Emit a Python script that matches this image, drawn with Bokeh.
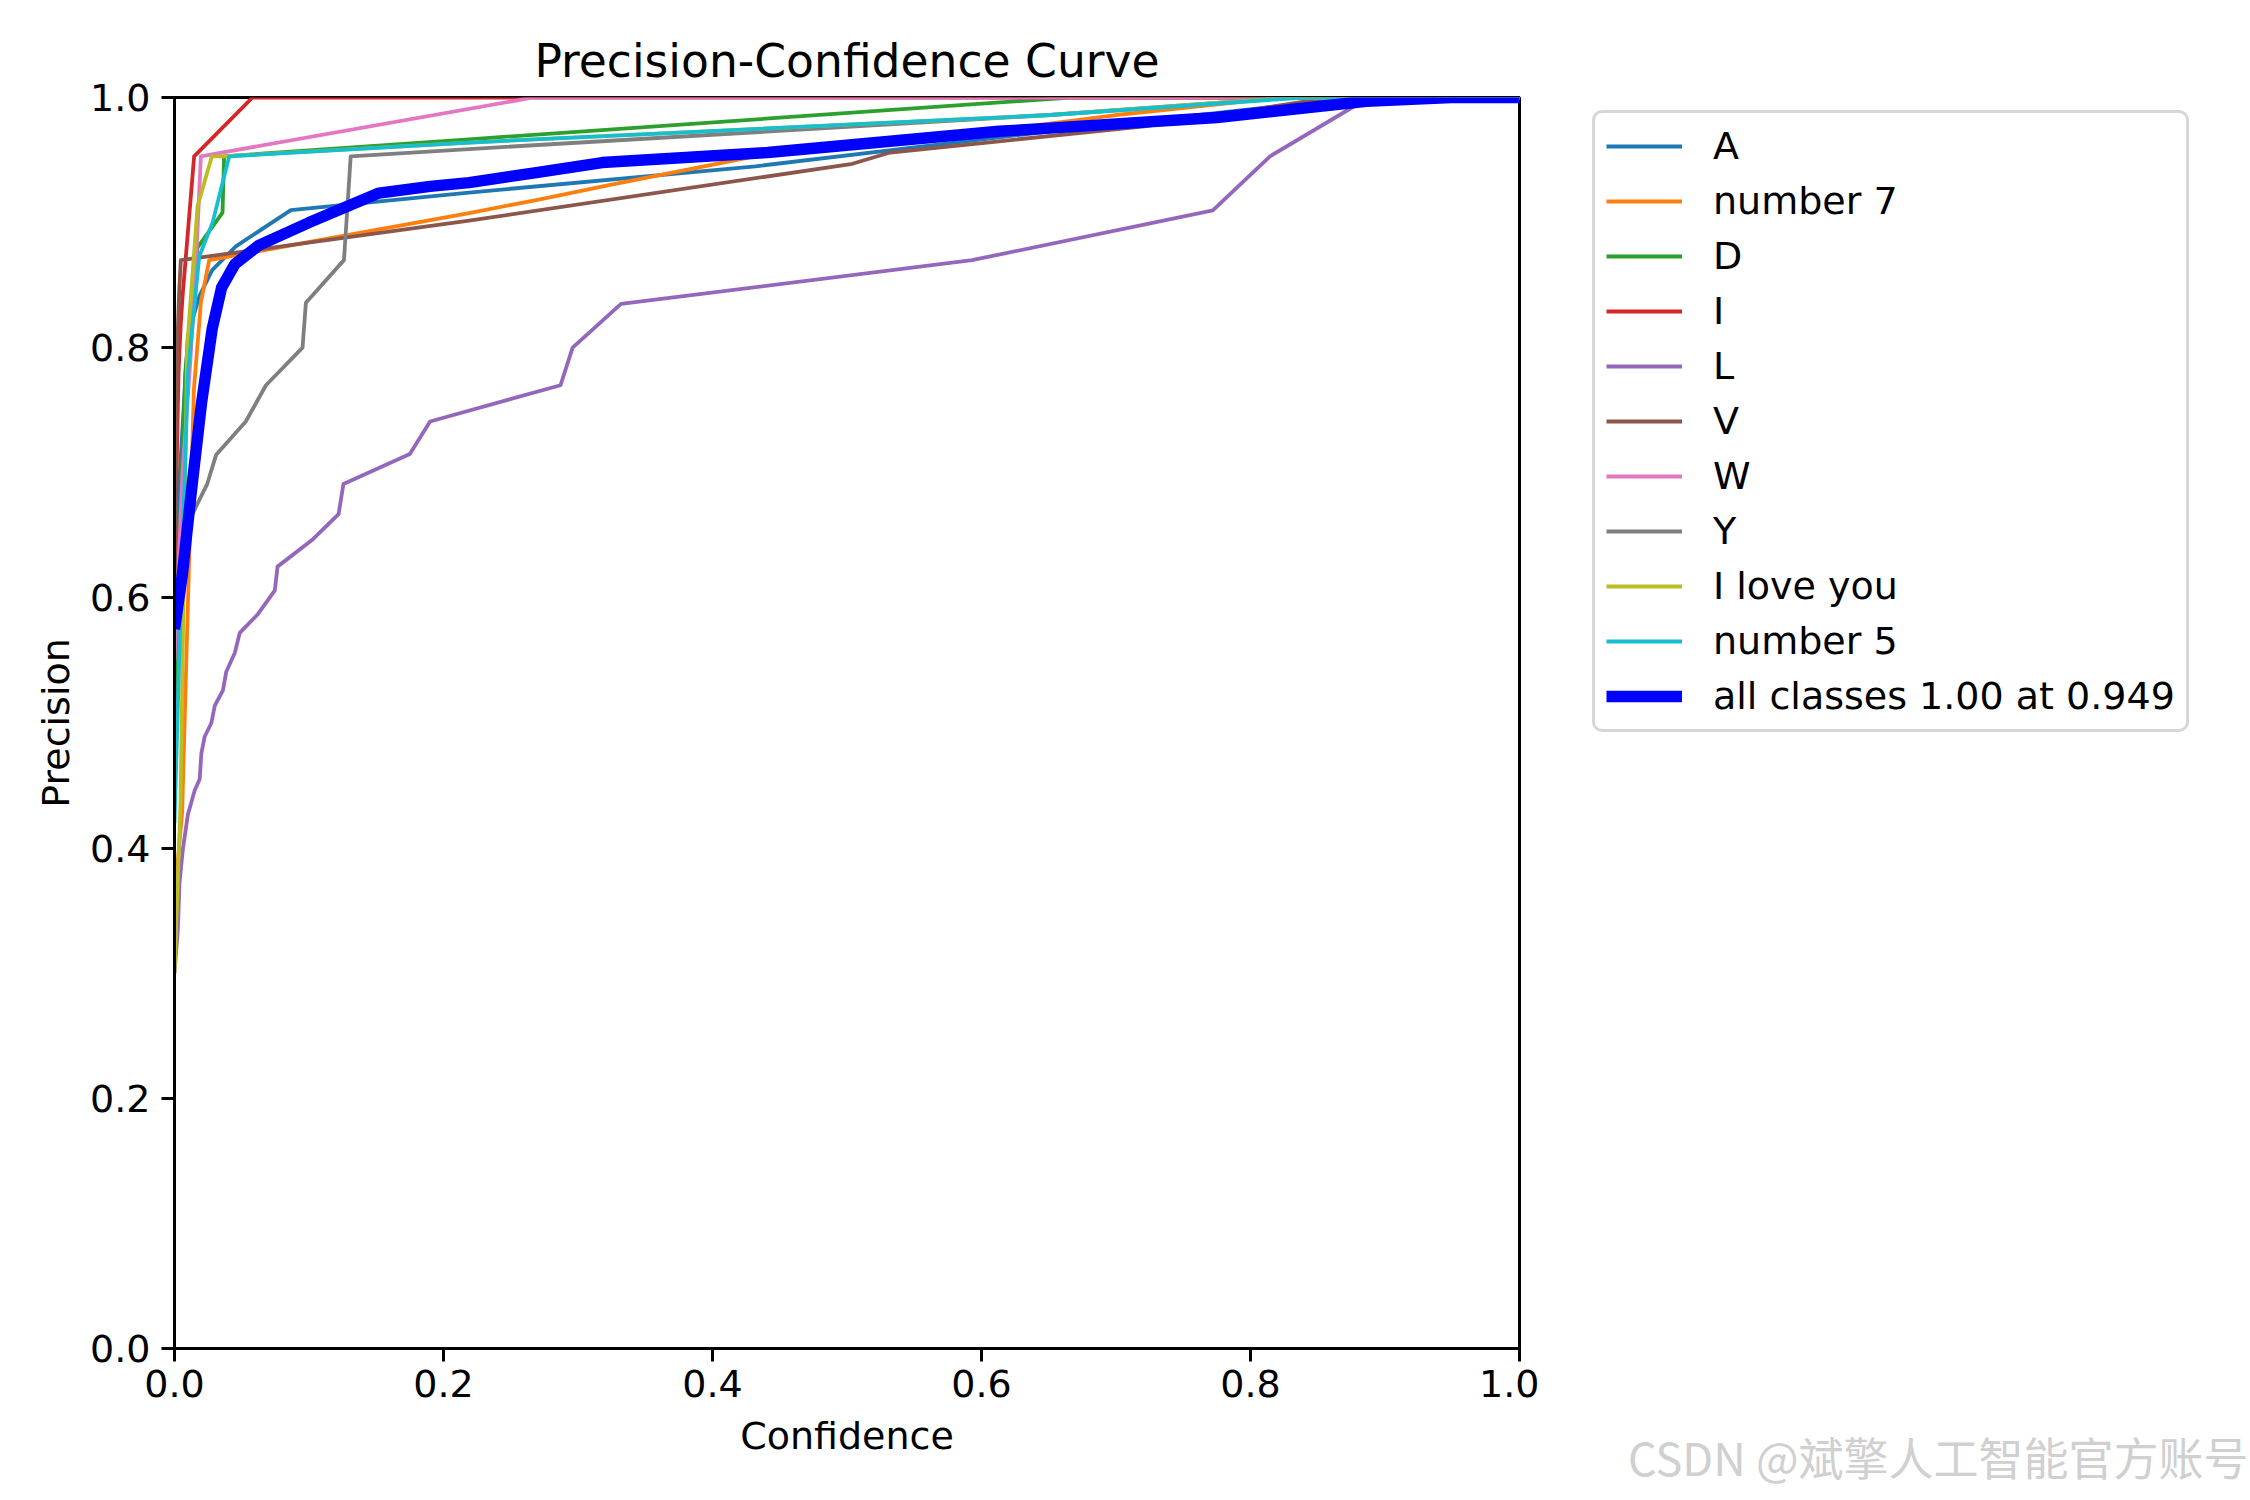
from bokeh.plotting import figure
from bokeh.models import Range1d, FixedTicker, Legend, LegendItem, Title
from bokeh.layouts import row
from bokeh.embed import file_html
from bokeh.resources import INLINE

# ---------------- data ----------------
CLASSES = ["A", "number 7", "D", "I", "L", "V", "W", "Y", "I love you", "number 5"]
COLORS = ["#1f77b4", "#ff7f0e", "#2ca02c", "#d62728", "#9467bd",
          "#8c564b", "#e377c2", "#7f7f7f", "#bcbd22", "#17becf"]

CONF_A = [0, 0.004, 0.010, 0.0184, 0.028, 0.0456, 0.0865, 0.219, 0.432, 0.651, 0.88, 1.0]
PREC_A = [0.50, 0.70, 0.81, 0.841, 0.862, 0.881, 0.910, 0.924, 0.945, 0.973, 1.0, 1.0]

CONF_N7 = [0, 0.0057, 0.0107, 0.0144, 0.0196, 0.0258, 0.219, 0.269, 0.323, 0.441, 0.60, 0.70, 0.824, 1.0]
PREC_N7 = [0.36, 0.429, 0.624, 0.766, 0.836, 0.870, 0.9076, 0.918, 0.930, 0.955, 0.972, 0.986, 1.0, 1.0]

CONF_D = [0, 0.003, 0.008, 0.0171, 0.0357, 0.0369, 0.219, 0.666, 1.0]
PREC_D = [0.50, 0.62, 0.78, 0.880, 0.908, 0.953, 0.9666, 1.0, 1.0]

CONF_I = [0, 0.003, 0.0047, 0.006, 0.0146, 0.058, 1.0]
PREC_I = [0.62, 0.78, 0.82, 0.841, 0.953, 1.0, 1.0]

CONF_L = [0, 0.0025, 0.0037, 0.0062, 0.010, 0.015, 0.0187, 0.020, 0.0224, 0.0274,
          0.030, 0.036, 0.0385, 0.0448, 0.0485, 0.062, 0.0746, 0.0766, 0.102, 0.122,
          0.1256, 0.175, 0.190, 0.287, 0.296, 0.332, 0.593, 0.772, 0.8145, 0.888, 1.0]
PREC_L = [0.30, 0.335, 0.372, 0.399, 0.427, 0.446, 0.455, 0.476, 0.489, 0.500,
          0.514, 0.526, 0.541, 0.556, 0.572, 0.587, 0.606, 0.625, 0.646, 0.667,
          0.691, 0.715, 0.741, 0.770, 0.800, 0.835, 0.870, 0.9097, 0.953, 1.0, 1.0]

CONF_V = [0, 0.002, 0.0035, 0.0047, 0.219, 0.504, 0.532, 0.613, 0.721, 0.86, 1.0]
PREC_V = [0.62, 0.80, 0.845, 0.870, 0.9015, 0.947, 0.956, 0.965, 0.977, 1.0, 1.0]

CONF_W = [0, 0.006, 0.012, 0.016, 0.0196, 0.267, 1.0]
PREC_W = [0.55, 0.70, 0.793, 0.868, 0.953, 1.0, 1.0]

CONF_Y = [0, 0.008, 0.0169, 0.0243, 0.031, 0.053, 0.068, 0.0952, 0.0977, 0.126,
          0.131, 0.219, 0.651, 0.83, 1.0]
PREC_Y = [0.60, 0.655, 0.675, 0.691, 0.7145, 0.741, 0.770, 0.800, 0.836, 0.870,
          0.953, 0.9588, 0.986, 1.0, 1.0]

CONF_ILY = [0, 0.0045, 0.0094, 0.0171, 0.0278, 0.037, 0.219, 0.651, 0.83, 1.0]
PREC_ILY = [0.30, 0.4365, 0.80, 0.913, 0.953, 0.953, 0.964, 0.986, 1.0, 1.0]

CONF_N5 = [0, 0.0045, 0.010, 0.0184, 0.0283, 0.0407, 0.219, 0.651, 0.84, 1.0]
PREC_N5 = [0.42, 0.589, 0.78, 0.873, 0.90, 0.953, 0.964, 0.986, 1.0, 1.0]

CONF_ALL = [0, 0.006, 0.012, 0.020, 0.028, 0.035, 0.045, 0.063, 0.100, 0.152,
            0.190, 0.219, 0.269, 0.318, 0.441, 0.613, 0.651, 0.775, 0.886, 0.949, 1.0]
PREC_ALL = [0.575, 0.62, 0.68, 0.755, 0.815, 0.848, 0.867, 0.882, 0.900, 0.9236,
            0.929, 0.932, 0.940, 0.948, 0.956, 0.973, 0.9755, 0.984, 0.997, 1.0, 1.0]
ALL_LABEL = "all classes 1.00 at 0.949"

TICKS = [0.0, 0.2, 0.4, 0.6, 0.8, 1.0]
TICK_LABELS = ["0.0", "0.2", "0.4", "0.6", "0.8", "1.0"]
WATERMARK = "CSDN @斌擎人工智能官方账号"

SERIES = [(CONF_A, PREC_A), (CONF_N7, PREC_N7), (CONF_D, PREC_D), (CONF_I, PREC_I),
          (CONF_L, PREC_L), (CONF_V, PREC_V), (CONF_W, PREC_W), (CONF_Y, PREC_Y),
          (CONF_ILY, PREC_ILY), (CONF_N5, PREC_N5)]

FONT = "DejaVu Sans"
H = 1498

# ---------------- main figure ----------------
p = figure(width=1539, height=H, output_backend="svg", toolbar_location=None,
           x_range=Range1d(0, 1), y_range=Range1d(0, 1),
           min_border_left=174, min_border_right=20,
           min_border_top=97, min_border_bottom=150,
           title="Precision-Confidence Curve")
p.background_fill_color = "white"
p.border_fill_color = "white"
p.xgrid.visible = False
p.ygrid.visible = False
p.outline_line_color = "black"
p.outline_line_width = 3
p.outline_line_alpha = 1.0

p.title.align = "center"
p.title.text_font = FONT
p.title.text_font_size = "45.6px"
p.title.text_font_style = "normal"
p.title.text_color = "black"
p.title.standoff = 19

for ax in (p.xaxis[0], p.yaxis[0]):
    ax.ticker = FixedTicker(ticks=TICKS)
    ax.major_label_overrides = dict(zip(TICKS, TICK_LABELS))
    ax.axis_line_color = "black"
    ax.axis_line_width = 3
    ax.major_tick_line_color = "black"
    ax.major_tick_line_width = 3
    ax.major_tick_out = 13
    ax.major_tick_in = 0
    ax.minor_tick_line_color = None
    ax.major_label_text_font = FONT
    ax.major_label_text_font_size = "38px"
    ax.major_label_text_color = "black"
    ax.axis_label_text_font = FONT
    ax.axis_label_text_font_size = "38px"
    ax.axis_label_text_font_style = "normal"
    ax.axis_label_text_color = "black"

p.xaxis.axis_label = "Confidence"
p.yaxis.axis_label = "Precision"
p.xaxis.major_label_standoff = 8
p.yaxis.major_label_standoff = 11
p.xaxis.axis_label_standoff = 14
p.yaxis.axis_label_standoff = 9

for color, (cx, cy) in zip(COLORS, SERIES):
    p.line(cx, cy, line_color=color, line_width=3.8, line_join="round")
p.line(CONF_ALL, PREC_ALL, line_color="#0000ff", line_width=11.4, line_join="round")

# ---------------- side panel: legend + watermark ----------------
# same series drawn off-range here, only so that the legend has real renderers
side = figure(width=709, height=H, output_backend="svg", toolbar_location=None,
              x_range=Range1d(10, 11), y_range=Range1d(10, 11),
              x_axis_location=None, y_axis_location=None,
              min_border=0, outline_line_color=None)
side.xgrid.visible = False
side.ygrid.visible = False
side.background_fill_color = "white"
side.border_fill_color = "white"

items = []
for name, color, (cx, cy) in zip(CLASSES, COLORS, SERIES):
    r = side.line(cx, cy, line_color=color, line_width=3.8)
    items.append(LegendItem(label=name, renderers=[r]))
r_all = side.line(CONF_ALL, PREC_ALL, line_color="#0000ff", line_width=11.4)
items.append(LegendItem(label=ALL_LABEL, renderers=[r_all]))

legend = Legend(items=items, location=(53, 616),
                label_text_font=FONT, label_text_font_size="38px", label_text_color="black",
                glyph_width=76, glyph_height=40, label_height=40,
                label_standoff=31, spacing=11, padding=11, margin=0,
                border_line_color="#cccccc", border_line_width=3.8, border_line_alpha=0.8,
                background_fill_color="white", background_fill_alpha=0.8)
if "border_radius" in Legend.properties():
    legend.border_radius = 10
side.add_layout(legend, "center")

wm = Title(text="\n" + WATERMARK, align="right", text_font="Noto Sans CJK SC",
           text_font_size="45px", text_font_style="normal", text_color="#d0d0d0",
           standoff=17)
side.add_layout(wm, "below")

open("out.html", "w").write(file_html(row(p, side), INLINE))
